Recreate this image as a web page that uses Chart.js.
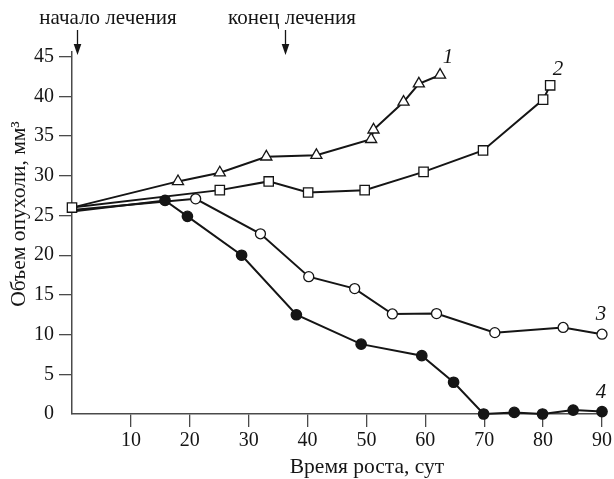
<!DOCTYPE html>
<html>
<head>
<meta charset="utf-8">
<script src="https://cdn.jsdelivr.net/npm/chart.js@4.4.0/dist/chart.umd.min.js"></script>
<style>
html,body{margin:0;padding:0;background:#fff;}
#wrap{width:614px;height:479px;position:relative;}
</style>
</head>
<body>
<div id="wrap"><canvas id="c" width="614" height="479"></canvas></div>
<script>
// Series 1 (triangles)
const days1 = [0, 18, 25.1, 33, 41.5, 50.8, 51.2, 56.3, 58.9, 62.5];
const vol1  = [26, 29.3, 30.4, 32.4, 32.6, 34.6, 35.8, 39.3, 41.6, 42.7];
// Series 2 (squares)
const days2 = [0, 25.1, 33.4, 40.1, 49.7, 59.7, 69.8, 80, 81.2];
const vol2  = [26, 28.2, 29.3, 27.9, 28.2, 30.5, 33.2, 39.6, 41.4];
// Series 3 (open circles)
const days3 = [0, 21, 32, 40.2, 48, 54.4, 61.9, 71.8, 83.4, 90];
const vol3  = [25.7, 27.1, 22.7, 17.3, 15.8, 12.6, 12.65, 10.25, 10.9, 10.05];
// Series 4 (filled circles)
const days4 = [0, 15.8, 19.6, 28.8, 38.1, 49.1, 59.4, 64.8, 69.9, 75.1, 79.9, 85.1, 90];
const vol4  = [25.5, 26.9, 24.9, 20.0, 12.5, 8.8, 7.35, 4.0, 0, 0.2, 0, 0.5, 0.3];

const seriesLabels = ['1', '2', '3', '4'];
const xTicks = [10, 20, 30, 40, 50, 60, 70, 80, 90];
const yTicks = [0, 5, 10, 15, 20, 25, 30, 35, 40, 45];
const xTitle = 'Время роста, сут';
const yTitle = 'Объем опухоли, мм³';
const startLabel = 'начало лечения';
const endLabel = 'конец лечения';
const startDay = 0.8;
const endDay = 36.1;

function pts(xs, ys) { return xs.map((x, i) => ({x: x, y: ys[i]})); }

const INK = '#151515';
const AXIS = '#4a4a4a';
const FONT = '"Liberation Serif", "Times New Roman", serif';

const hideFirst = r => (ctx => ctx.dataIndex === 0 ? 0 : r);

const overlay = {
  id: 'overlay',
  afterDraw(chart) {
    const ctx = chart.ctx;
    const xs = chart.scales.x;
    ctx.save();
    ctx.fillStyle = INK;
    ctx.strokeStyle = INK;
    // annotations
    ctx.font = '21px ' + FONT;
    ctx.textAlign = 'center';
    ctx.textBaseline = 'alphabetic';
    ctx.fillText(startLabel, 108, 24);
    ctx.fillText(endLabel, 292, 24);
    function arrow(px) {
      ctx.lineWidth = 1.3;
      ctx.beginPath();
      ctx.moveTo(px, 30);
      ctx.lineTo(px, 46);
      ctx.stroke();
      ctx.beginPath();
      ctx.moveTo(px - 3.8, 44);
      ctx.lineTo(px + 3.8, 44);
      ctx.lineTo(px, 55);
      ctx.closePath();
      ctx.fill();
    }
    arrow(Math.round(xs.getPixelForValue(startDay)) + 0.5);
    arrow(Math.round(xs.getPixelForValue(endDay)) + 0.5);
    // axis titles
    ctx.font = '21.5px ' + FONT;
    ctx.fillText(xTitle, 367, 473);
    ctx.save();
    ctx.translate(25, 214);
    ctx.rotate(-Math.PI / 2);
    ctx.fillText(yTitle, 0, 0);
    ctx.restore();
    // series numbers
    ctx.font = 'italic 21px ' + FONT;
    ctx.textBaseline = 'middle';
    ctx.fillText(seriesLabels[0], 448, 57);
    ctx.fillText(seriesLabels[1], 558, 69);
    ctx.fillText(seriesLabels[2], 601, 314);
    ctx.fillText(seriesLabels[3], 601, 392);
    ctx.restore();
  }
};

const common = {
  showLine: true,
  borderColor: INK,
  borderWidth: 2,
  pointBorderColor: INK,
  pointBorderWidth: 1.3,
  clip: false,
  tension: 0
};

new Chart(document.getElementById('c'), {
  type: 'scatter',
  data: {
    datasets: [
      Object.assign({}, common, {data: pts(days1, vol1), pointStyle: 'triangle', pointRadius: hideFirst(6.4), pointBackgroundColor: '#fff', order: 1}),
      Object.assign({}, common, {data: pts(days2, vol2), pointStyle: 'rect', pointRadius: 6.6, pointBackgroundColor: '#fff', order: 0}),
      Object.assign({}, common, {data: pts(days3, vol3), pointStyle: 'circle', pointRadius: hideFirst(5), pointBackgroundColor: '#fff', order: 2}),
      Object.assign({}, common, {data: pts(days4, vol4), pointStyle: 'circle', pointRadius: hideFirst(5.2), pointBackgroundColor: INK, order: 3})
    ]
  },
  options: {
    responsive: false,
    animation: false,
    devicePixelRatio: 1,
    layout: {padding: {top: 52, right: 11, bottom: 0, left: 0}},
    plugins: {legend: {display: false}, tooltip: {enabled: false}},
    scales: {
      x: {
        type: 'linear',
        min: 0, max: 90,
        afterBuildTicks: s => { s.ticks = xTicks.map(v => ({value: v})); },
        afterFit: s => { s.height = 65; },
        grid: {drawOnChartArea: false, drawTicks: true, tickLength: 13, tickColor: AXIS, lineWidth: 1.3},
        border: {display: true, color: AXIS, width: 1.5},
        ticks: {color: INK, font: {family: FONT, size: 20}, padding: 2, maxRotation: 0}
      },
      y: {
        type: 'linear',
        min: 0, max: 45.6,
        afterBuildTicks: s => { s.ticks = yTicks.map(v => ({value: v})); },
        afterFit: s => { s.width = 72; },
        grid: {drawOnChartArea: false, drawTicks: true, tickLength: 13, lineWidth: 1.3,
               tickColor: c => (c.tick && c.tick.value === 0) ? 'rgba(0,0,0,0)' : AXIS},
        border: {display: true, color: AXIS, width: 1.5},
        ticks: {color: INK, font: {family: FONT, size: 20}, padding: 5}
      }
    }
  },
  plugins: [overlay]
});
</script>
</body>
</html>
